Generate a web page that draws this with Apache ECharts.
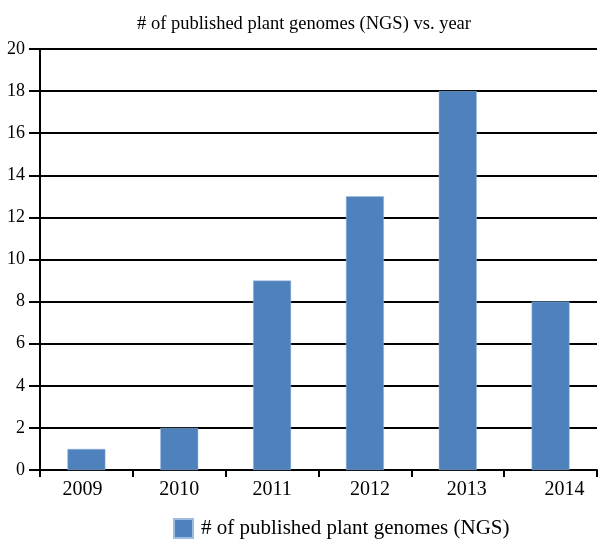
<!DOCTYPE html>
<html><head><meta charset="utf-8">
<script src="https://cdn.jsdelivr.net/npm/echarts@6/dist/echarts.min.js"></script>
<style>html,body{margin:0;padding:0;background:#fff}#c{width:598px;height:541px}</style>
</head><body><div id="c"></div>
<script>
const years = ['2009','2010','2011','2012','2013','2014'];
const genomes = [1, 2, 9, 13, 18, 8];
const seriesName = '# of published plant genomes (NGS)';
const titleText = '# of published plant genomes (NGS) vs. year';
// horizontal nudge of each category label (px), as in the original figure
const labelShift = [-4, 0, 0, 5, 9, 14];
const font = 'Liberation Serif';
const chart = echarts.init(document.getElementById('c'));
const rich = {};
labelShift.forEach((s, i) => {
  rich['l' + i] = { fontFamily: font, fontSize: 20, color: '#000',
    padding: s >= 0 ? [0, 0, 0, 2 * s] : [0, -2 * s, 0, 0] };
});
chart.setOption({
  animation: false,
  textStyle: { fontFamily: font },
  title: { text: titleText, left: 132, top: 10,
    textStyle: { fontFamily: font, fontSize: 18.5, fontWeight: 'normal', color: '#000' } },
  grid: { left: 40, right: 1, top: 49, bottom: 71, containLabel: false },
  legend: { data: [seriesName], left: 173, top: 518, itemWidth: 19, itemHeight: 19, icon: 'rect',
    textStyle: { fontFamily: font, fontSize: 21, color: '#000', padding: [0, 0, 0, 3] }, padding: 0 },
  xAxis: { type: 'category', data: years,
    axisLine: { lineStyle: { color: '#000', width: 2 } },
    axisTick: { show: true, interval: 0, length: 7, lineStyle: { color: '#000', width: 2 } },
    axisLabel: { color: '#000', fontSize: 20, fontFamily: font, margin: 10, interval: 0, hideOverlap: false,
      formatter: (v, i) => '{l' + i + '|' + v + '}', rich: rich } },
  yAxis: { type: 'value', min: 0, max: 20, interval: 2,
    axisLine: { show: true, lineStyle: { color: '#000', width: 2 } },
    axisTick: { show: true, length: 11, lineStyle: { color: '#000', width: 2 } },
    splitLine: { lineStyle: { color: '#000', width: 2 } },
    axisLabel: { color: '#000', fontSize: 18, fontFamily: font, margin: 15 } },
  series: [{ name: seriesName, type: 'bar', data: genomes, barWidth: 38,
    itemStyle: { color: '#4f81bd', borderColor: '#9fbde0', borderWidth: 0.5 } }]
});
</script></body></html>
